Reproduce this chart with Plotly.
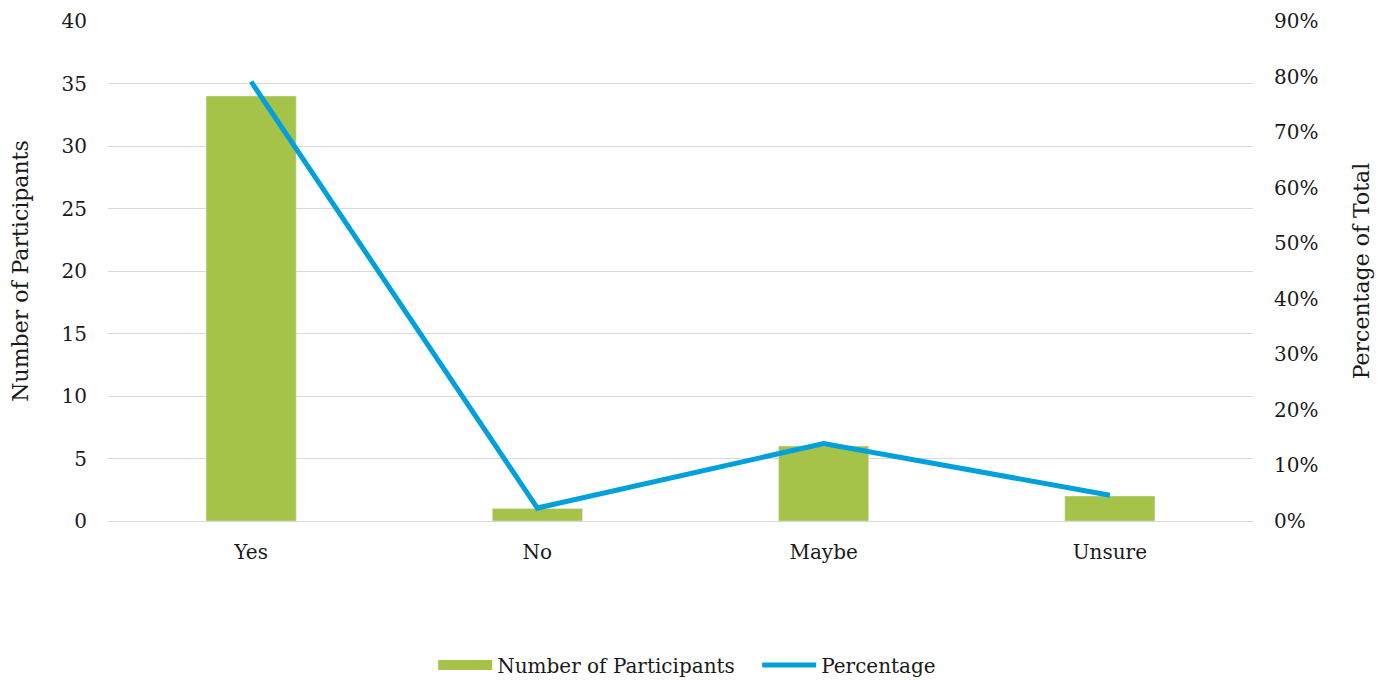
import plotly.graph_objects as go

categories = ["Yes", "No", "Maybe", "Unsure"]
participants = [34, 1, 6, 2]
percentage = [0.7907, 0.0233, 0.1395, 0.0465]

FONT = "DejaVu Serif"
BAR_COLOR = "#A5C249"
LINE_COLOR = "#00A0DC"

fig = go.Figure()
fig.add_trace(go.Bar(x=categories, y=participants, name="Number of Participants",
                     marker_color=BAR_COLOR, yaxis="y", showlegend=False))
fig.add_trace(go.Scatter(x=categories, y=percentage, name="Percentage", mode="lines",
                         line=dict(color=LINE_COLOR, width=5), yaxis="y2", showlegend=False))
# legend entries (wide swatch for bars, line for percentage)
fig.add_trace(go.Scatter(x=[None], y=[None], name="Number of Participants", mode="lines",
                         line=dict(color=BAR_COLOR, width=14), yaxis="y"))
fig.add_trace(go.Scatter(x=[None], y=[None], name="Percentage", mode="lines",
                         line=dict(color=LINE_COLOR, width=5), yaxis="y2"))

fig.update_layout(
    width=1394, height=680,
    margin=dict(l=100, r=149, t=13, b=167, autoexpand=False),
    plot_bgcolor="white", paper_bgcolor="white",
    font=dict(family=FONT, size=20, color="#1a1a1a"),
    bargap=0.685,
    showlegend=True,
    legend=dict(orientation="h", x=0.284, xanchor="left", xref="paper",
                y=0.034, yref="container", yanchor="middle",
                entrywidth=255, entrywidthmode="pixels", itemwidth=54,
                font=dict(size=20), traceorder="normal"),
    xaxis=dict(showline=True, linecolor="#D9D9D9", linewidth=1, ticks="",
               ticklabelstandoff=13),
    yaxis=dict(range=[0, 40], dtick=5, showgrid=True, gridcolor="#D9D9D9", gridwidth=1,
               zeroline=False,
               title=dict(text="Number of Participants", font=dict(size=22), standoff=35),
               ticklabelstandoff=20),
    yaxis2=dict(range=[0, 0.9], dtick=0.1, tickformat=".0%", overlaying="y", side="right",
                showgrid=False, zeroline=False,
                title=dict(text="Percentage of Total", font=dict(size=22), standoff=36),
                ticklabelstandoff=20),
)
fig.write_html("out.html")
